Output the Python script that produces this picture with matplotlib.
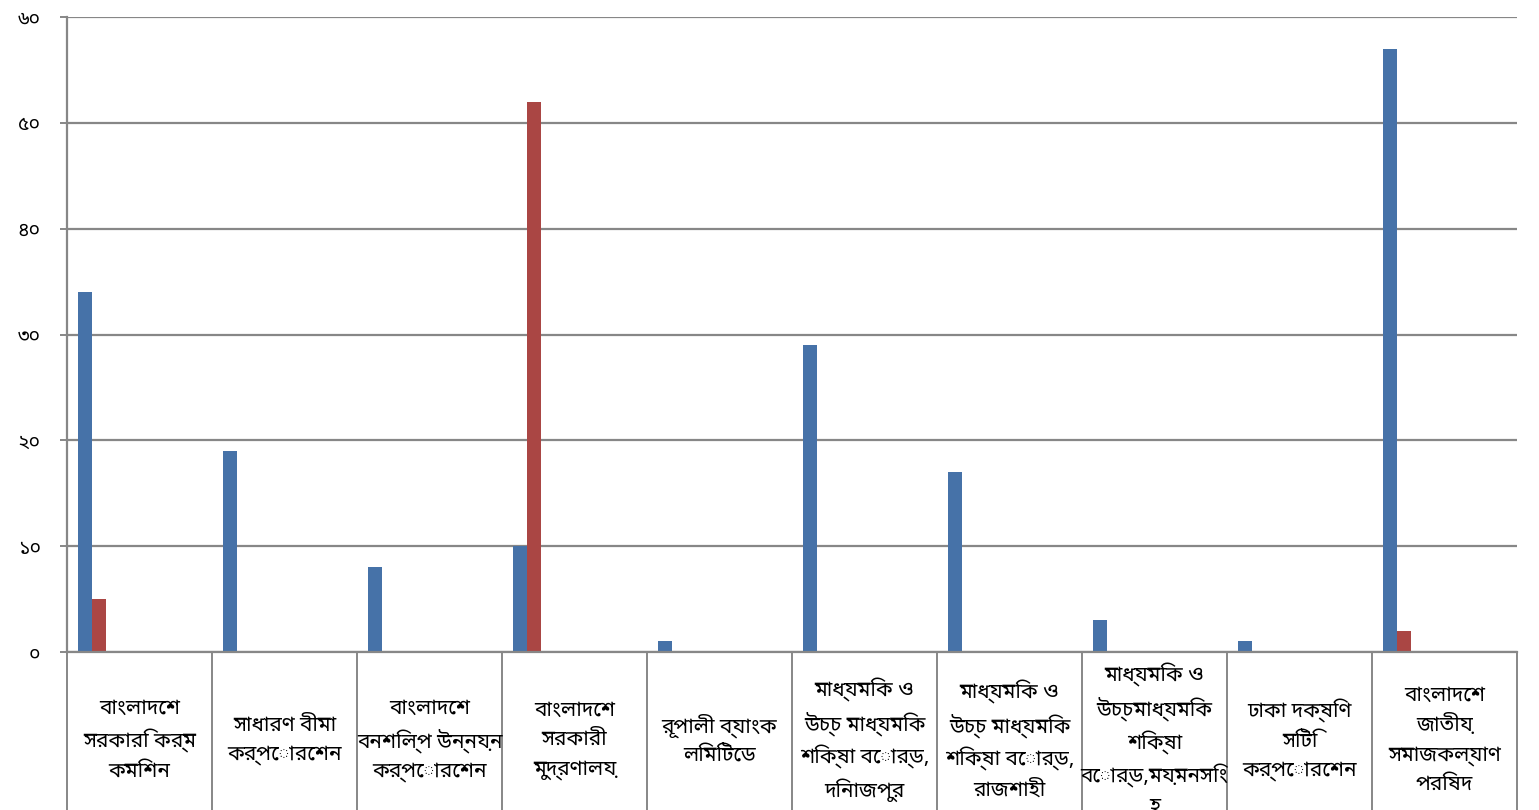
import matplotlib
matplotlib.use("Agg")
import matplotlib.pyplot as plt
import matplotlib.transforms as mtransforms
from matplotlib import font_manager
from matplotlib.ft2font import FT2Font
import numpy as np

# ---------------- data ----------------
categories = [
    "বাংলাদেশ\nসরকারি কর্ম\nকমিশন",
    "সাধারণ বীমা\nকর্পোরেশন",
    "বাংলাদেশ\nবনশিল্প উন্নয়ন\nকর্পোরেশন",
    "বাংলাদেশ\nসরকারী\nমুদ্রণালয়",
    "রূপালী ব্যাংক\nলিমিটেড",
    "মাধ্যমিক ও\nউচ্চ মাধ্যমিক\nশিক্ষা বোর্ড,\nদিনাজপুর",
    "মাধ্যমিক ও\nউচ্চ মাধ্যমিক\nশিক্ষা বোর্ড,\nরাজশাহী",
    "মাধ্যমিক ও\nউচ্চমাধ্যমিক\nশিক্ষা\nবোর্ড,ময়মনসিং\nহ",
    "ঢাকা দক্ষিণ\nসিটি\nকর্পোরেশন",
    "বাংলাদেশ\nজাতীয়\nসমাজকল্যাণ\nপরিষদ",
]
series_blue = [34, 19, 8, 10, 1, 29, 17, 3, 1, 57]
series_red = [5, 0, 0, 52, 0, 0, 0, 0, 0, 2]
y_ticks = [0, 10, 20, 30, 40, 50, 60]
y_tick_labels = ["০", "১০", "২০", "৩০", "৪০", "৫০", "৬০"]

# ---------------- font selection ----------------
def find_bengali_font():
    found = []
    for f in font_manager.fontManager.ttflist:
        try:
            cm = FT2Font(f.fname).get_charmap()
        except Exception:
            continue
        if 0x09AC in cm and 0x09CD in cm:
            found.append(f.name)
    prefs = ["Noto Sans Bengali", "Noto Serif Bengali", "Lohit Bengali",
             "Mukti Narrow", "FreeSans", "FreeSerif"]
    for p in prefs:
        if p in found:
            return p
    return found[0] if found else None

bn = find_bengali_font()
families = ([bn] if bn else []) + ["DejaVu Sans"]
plt.rcParams["font.family"] = families

BLUE = "#4672A8"
RED = "#AA4644"
GRID = "#878787"

W, H = 1539, 810
fig = plt.figure(figsize=(W / 100, H / 100), dpi=100)
left, right, top, bottom = 67, 1517, 17, 652
ax = fig.add_axes([left / W, 1 - bottom / H, (right - left) / W, (bottom - top) / H])

x = np.arange(len(categories))
cat_px = (right - left) / len(categories)
bw = 14 / cat_px
off_blue = -0.5 + 11 / cat_px + bw / 2
off_red = off_blue + bw
ax.bar(x + off_blue, series_blue, width=bw, color=BLUE, zorder=3, linewidth=0)
ax.bar(x + off_red, series_red, width=bw, color=RED, zorder=3, linewidth=0)

ax.set_xlim(-0.5, len(categories) - 0.5)
ax.set_ylim(0, 60)
ax.set_yticks(y_ticks)
ax.set_yticklabels(y_tick_labels, fontsize=14)
ax.yaxis.grid(True, color=GRID, linewidth=1.6, zorder=0)
ax.tick_params(axis="y", length=5, width=1.4, color=GRID, pad=14)

# category boundaries as long ticks
ax.set_xticks(np.arange(len(categories) + 1) - 0.5)
ax.set_xticklabels([])
ax.tick_params(axis="x", length=(H - bottom) * 0.72 + 5, width=1.4, color=GRID, direction="out")

for s in ["top", "right"]:
    ax.spines[s].set_visible(False)
ax.spines["left"].set_color(GRID)
ax.spines["left"].set_linewidth(1.6)
ax.spines["bottom"].set_color(GRID)
ax.spines["bottom"].set_linewidth(1.6)
ax.spines["bottom"].set_zorder(4)

trans = mtransforms.blended_transform_factory(ax.transData, ax.transAxes)
label_y = -(740 - bottom) / (bottom - top)
for i, lab in enumerate(categories):
    ax.text(i, label_y, lab, transform=trans, ha="center", va="center",
            multialignment="center", fontsize=15, linespacing=1.5, clip_on=False)

fig.savefig("out.png", dpi=100)
